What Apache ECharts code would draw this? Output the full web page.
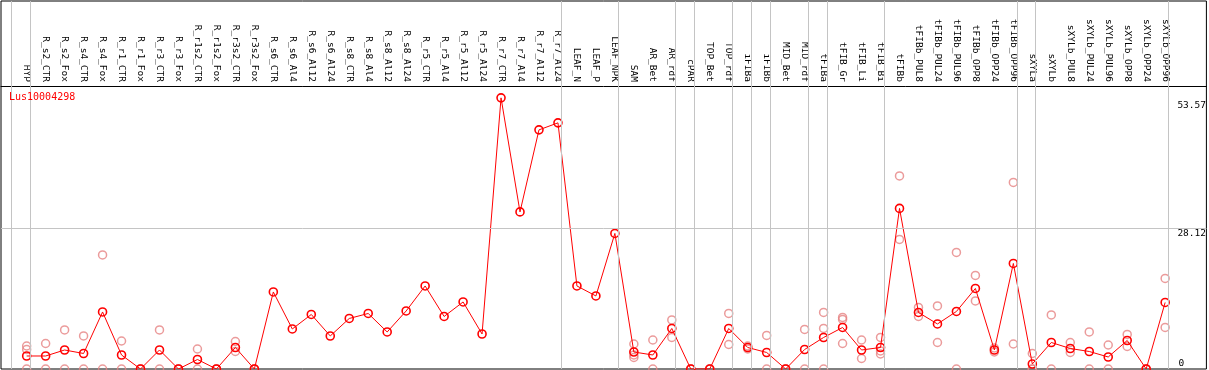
<!DOCTYPE html>
<html>
<head>
<meta charset="utf-8">
<script src="https://cdn.jsdelivr.net/npm/echarts@6/dist/echarts.min.js"></script>
<style>
html,body{margin:0;padding:0;background:#fff;}
#c{width:1209px;height:370px;}
</style>
</head>
<body>
<div id="c"></div>
<script>
const seriesName = 'Lus10004298';
const categories = ['HYP','R_s2_CTR','R_s2_Fox','R_s4_CTR','R_s4_Fox','R_r1_CTR','R_r1_Fox','R_r3_CTR','R_r3_Fox','R_r1s2_CTR','R_r1s2_Fox','R_r3s2_CTR','R_r3s2_Fox','R_s6_CTR','R_s6_Al4','R_s6_Al12','R_s6_Al24','R_s8_CTR','R_s8_Al4','R_s8_Al12','R_s8_Al24','R_r5_CTR','R_r5_Al4','R_r5_Al12','R_r5_Al24','R_r7_CTR','R_r7_Al4','R_r7_Al12','R_r7_Al24','LEAF_N','LEAF_P','LEAF_NPK','SAM','AR_Bet','AR_rdf','cPAR','TOP_Bet','TOP_rdf','iFIBa','iFIBb','MID_Bet','MID_rdf','tFIBa','tFIB_Gr','tFIB_Li','tFIB_Bi','tFIBb','tFIBb_PUL8','tFIBb_PUL24','tFIBb_PUL96','tFIBb_OPP8','tFIBb_OPP24','tFIBb_OPP96','sXYLa','sXYLb','sXYLb_PUL8','sXYLb_PUL24','sXYLb_PUL96','sXYLb_OPP8','sXYLb_OPP24','sXYLb_OPP96'];
const meanValues = [2.6,2.6,3.8,3.1,11.4,2.8,0,3.8,0,1.9,0,4.3,0,15.4,8.0,10.9,6.6,10.1,11.1,7.4,11.6,16.6,10.5,13.4,7.0,54.2,31.4,47.8,49.2,16.6,14.6,27.1,3.4,2.8,8.1,0,0,8.1,4.3,3.3,0,3.9,6.3,8.3,3.8,4.3,32.1,11.3,9.0,11.5,16.1,3.8,21.1,1.0,5.3,4.1,3.5,2.4,5.7,0,13.3];
const replicateValues = [
  [4.6,3.9,0],[5.1,0],[7.8,0],[6.6,0],[22.8,0],[5.6,0],[0,0],[7.8,0],[0,0],[4.0,0],[0,0],[5.5,3.5],[0,0],
  [],[],[],[],[],[],[],[],[],[],[],[],[],[],[],[],[],[],[],
  [5.0,2.8,2.3],[5.8,0],[9.8,6.3],[0,0],[0,0],[11.1,4.9],[4.6,4.0],[6.7,0],[0,0],[7.9,0],[11.3,8.1,0],[10.3,9.9,5.1],[5.8,2.1],[6.3,3.6,3.0],
  [38.6,25.9],[12.3,10.5],[12.6,5.3],[23.3,0],[18.7,13.6],[4.2,3.4],[37.3,5.0],[3.1,0,0],[10.8,0],[5.3,3.3],[7.4,0],[4.8,0],[6.9,4.5],[0,0],[18.1,8.3]
];
const yTickValues = [0, 28.12, 53.57];
const yGridValues = [28.12];
const separatorAfter = [-1, 0, 28, 31, 34, 35, 37, 38, 39, 41, 42, 45, 52, 53, 60];

const FONT = 'DejaVu Sans Mono';
const catIdx = categories.map((_, i) => i);
const lineData = meanValues.map((v, i) => [i, v]);
const scatterData = [];
replicateValues.forEach((arr, i) => arr.forEach(v => scatterData.push([i, v])));

const Y_MAX = 73.56;
const X_MIN = -1.3526, X_MAX = 62.174;

const chart = echarts.init(document.getElementById('c'), null, {renderer: 'canvas'});
const yAxisBase = {type: 'value', min: 0, max: Y_MAX, axisLine: {show: false}, axisTick: {show: false}, splitLine: {show: false}};
chart.setOption({
  animation: false,
  title: {text: seriesName, left: 9, top: 92, padding: 0, textStyle: {color: '#ff0000', fontFamily: FONT, fontSize: 10, fontWeight: 'normal'}},
  grid: {left: 1, right: 1, top: 1, bottom: 1, show: true, borderColor: '#000', borderWidth: 1, backgroundColor: 'transparent'},
  xAxis: {
    type: 'value', position: 'top', offset: -85, min: X_MIN, max: X_MAX,
    axisLine: {show: true, onZero: false, lineStyle: {color: '#000', width: 1}},
    axisTick: {show: false}, splitLine: {show: false},
    axisLabel: {customValues: catIdx, formatter: v => categories[Math.round(v)] || '', rotate: 90, margin: 4,
      fontFamily: FONT, fontSize: 9.5, color: '#000', showMinLabel: true, showMaxLabel: true}
  },
  yAxis: [
    Object.assign({}, yAxisBase, {axisLabel: {show: false}}),
    Object.assign({}, yAxisBase, {position: 'right', offset: -29,
      axisLabel: {inside: false, margin: 0, customValues: yTickValues.filter(v => v > 0), formatter: v => String(v),
        verticalAlign: 'top', fontFamily: FONT, fontSize: 9.5, color: '#000', showMinLabel: true, showMaxLabel: true}}),
    Object.assign({}, yAxisBase, {position: 'right', offset: -29,
      axisLabel: {inside: false, margin: 1, customValues: yTickValues.filter(v => v === 0), formatter: v => String(v),
        verticalAlign: 'bottom', fontFamily: FONT, fontSize: 9.5, color: '#000', showMinLabel: true, showMaxLabel: true}})
  ],
  series: [
    {
      type: 'scatter', yAxisIndex: 0, data: scatterData, symbol: 'circle', symbolSize: 8,
      itemStyle: {color: 'rgba(0,0,0,0)', borderColor: '#e68282', borderWidth: 1.5},
      markLine: {
        silent: true, symbol: 'none', animation: false, label: {show: false},
        lineStyle: {color: '#c4c4c4', width: 1, type: 'solid'},
        data: separatorAfter.map(s => ({xAxis: s + 0.18})).concat(yGridValues.map(v => ({yAxis: v})))
      }
    },
    {
      type: 'line', yAxisIndex: 0, data: lineData, symbol: 'circle', symbolSize: 8, showAllSymbol: true,
      itemStyle: {color: 'rgba(0,0,0,0)', borderColor: '#ff0000', borderWidth: 1.6},
      lineStyle: {color: '#ff0000', width: 1}
    }
  ]
});
</script>
</body>
</html>
